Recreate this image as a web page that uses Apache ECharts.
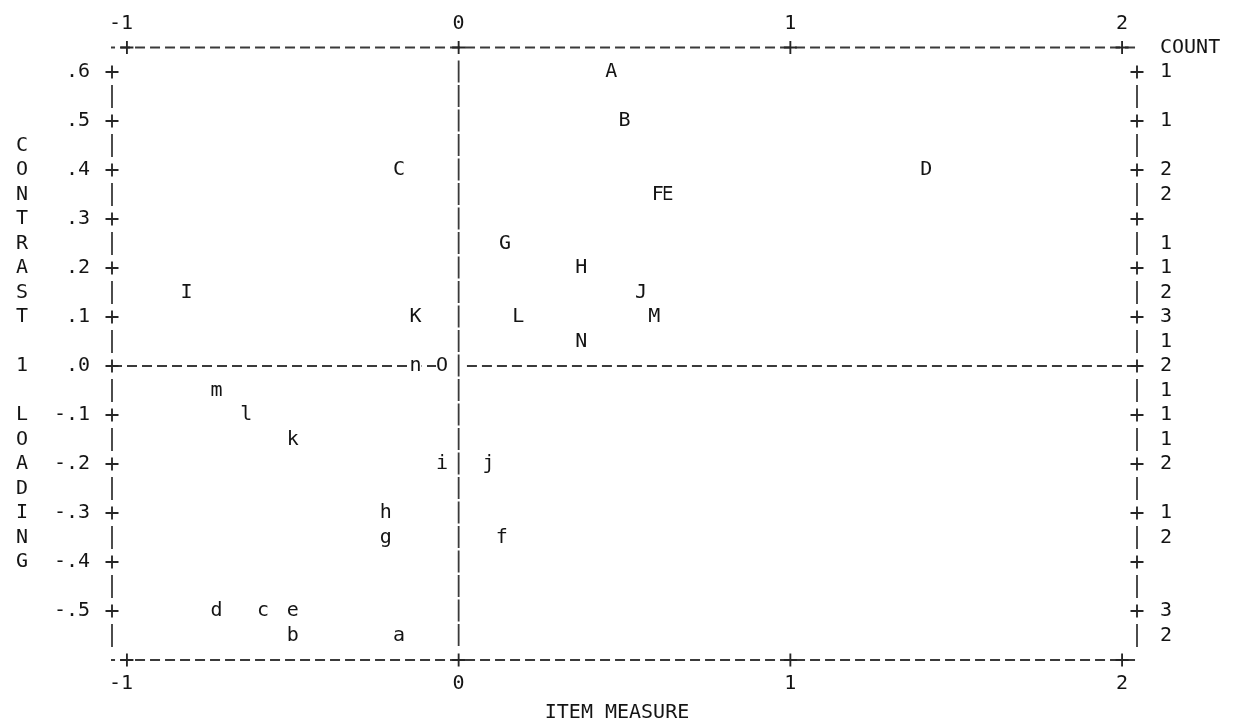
<!DOCTYPE html>
<html>
<head>
<meta charset="utf-8">
<script src="https://cdn.jsdelivr.net/npm/echarts@6/dist/echarts.min.js"></script>
<style>
html,body{margin:0;padding:0;background:#ffffff;}
#chart{width:1242px;height:723px;}
</style>
</head>
<body>
<div id="chart"></div>
<script>
// ---- data ----
const itemLabels      = ['A','B','C','D','E','F','G','H','I','J','K','L','M','N','O','n','m','l','k','i','j','h','g','f','d','c','e','b','a'];
const itemMeasure     = [0.46,0.50,-0.18,1.41,0.63,0.60,0.14,0.37,-0.82,0.55,-0.13,0.18,0.59,0.37,-0.05,-0.13,-0.73,-0.64,-0.50,-0.05,0.09,-0.22,-0.22,0.13,-0.73,-0.59,-0.50,-0.50,-0.18];
const contrastLoading = [0.60,0.50,0.40,0.40,0.35,0.35,0.25,0.20,0.15,0.15,0.10,0.10,0.10,0.05,0.00,0.00,-0.05,-0.10,-0.15,-0.20,-0.20,-0.30,-0.35,-0.35,-0.50,-0.50,-0.50,-0.55,-0.55];

const xTickValues = [-1, 0, 1, 2];
const xTickLabels = ['-1', '0', '1', '2'];
const yTickValues = [0.6, 0.5, 0.4, 0.3, 0.2, 0.1, 0.0, -0.1, -0.2, -0.3, -0.4, -0.5];
const yTickLabels = ['.6', '.5', '.4', '.3', '.2', '.1', '.0', '-.1', '-.2', '-.3', '-.4', '-.5'];
const countRows   = [0.60, 0.50, 0.40, 0.35, 0.25, 0.20, 0.15, 0.10, 0.05, 0.00, -0.05, -0.10, -0.15, -0.20, -0.30, -0.35, -0.50, -0.55];
const countValues = [1, 1, 2, 2, 1, 1, 2, 3, 1, 2, 1, 1, 1, 2, 1, 2, 3, 2];

const countTitle = 'COUNT';
const xTitle = 'ITEM MEASURE';
const yTitle = 'CONTRAST 1 LOADING';

// ---- frame extents ----
const X_MIN = -1.045, X_MAX = 2.045;
const Y_MIN = -0.60,  Y_MAX = 0.65;
const ROW = 0.05;

const FONT = 'DejaVu Sans Mono';
const FS = 20;
const TXT = '#141414';
const LINE = '#3a3a3a';

const key = v => Math.round(v * 100);
const yLabelMap = {}; yTickValues.forEach((v, i) => yLabelMap[key(v)] = yTickLabels[i]);
const xLabelMap = {}; xTickValues.forEach((v, i) => xLabelMap[key(v)] = xTickLabels[i]);
const countMap = {}; countRows.forEach((v, i) => countMap[key(v)] = String(countValues[i]));
countMap[key(Y_MAX)] = countTitle;

const yName = yTitle.split(' ').map(w => w.split('').join('\n')).join('\n\n');

const chart = echarts.init(document.getElementById('chart'), null, {renderer: 'canvas'});

const xLabelFmt = v => {
  const s = xLabelMap[key(v)];
  if (s === undefined) return '';
  return s.length > 1 ? '{neg|' + s + '}' : s;
};
const xRich = {neg: {fontFamily: FONT, fontSize: FS, color: TXT, padding: [0, 12, 0, 0]}};

function lineSeries(pts, dash, width) {
  return {
    type: 'line', data: pts, symbol: 'none', silent: true, clip: false,
    animation: false, z: 2,
    lineStyle: {color: LINE, width: width || 1.8, type: dash}
  };
}

const plusPts = []
  .concat(xTickValues.map(v => [v, Y_MAX]))
  .concat(xTickValues.map(v => [v, Y_MIN]))
  .concat(yTickValues.map(v => [X_MIN, v]))
  .concat(yTickValues.map(v => [X_MAX, v]));

const barHalf = 0.0235;   // half height of a "|" character
const topRow = yTickValues[0], lowRow = countRows[countRows.length - 1];

const option = {
  animation: false,
  backgroundColor: '#ffffff',
  grid: {left: 112, right: 105, top: 47.5, bottom: 63, containLabel: false, outerBoundsMode: 'none'},
  xAxis: [
    {
      type: 'value', position: 'bottom', min: X_MIN, max: X_MAX,
      axisLine: {show: false}, axisTick: {show: false}, splitLine: {show: false},
      axisLabel: {customValues: xTickValues, formatter: xLabelFmt, rich: xRich, margin: 12,
        fontFamily: FONT, fontSize: FS, color: TXT, lineHeight: 24, showMinLabel: true, showMaxLabel: true},
      name: xTitle, nameLocation: 'middle', nameGap: 39,
      nameTextStyle: {fontFamily: FONT, fontSize: FS, color: TXT, lineHeight: 24, padding: [0, 15, 0, 0]}
    },
    {
      type: 'value', position: 'top', min: X_MIN, max: X_MAX,
      axisLine: {show: false}, axisTick: {show: false}, splitLine: {show: false},
      axisLabel: {customValues: xTickValues, formatter: xLabelFmt, rich: xRich, margin: 12,
        fontFamily: FONT, fontSize: FS, color: TXT, lineHeight: 24}
    }
  ],
  yAxis: [
    {
      type: 'value', position: 'left', min: Y_MIN, max: Y_MAX,
      axisLine: {show: false}, axisTick: {show: false}, splitLine: {show: false},
      axisLabel: {customValues: yTickValues, formatter: v => yLabelMap[key(v)] || '', margin: 22,
        fontFamily: FONT, fontSize: FS, color: TXT},
      name: yName, nameLocation: 'middle', nameRotate: 0, nameGap: 84,
      nameTextStyle: {fontFamily: FONT, fontSize: FS, color: TXT, lineHeight: 24.5, align: 'right', verticalAlign: 'middle'}
    },
    {
      type: 'value', position: 'right', min: Y_MIN, max: Y_MAX,
      axisLine: {show: false}, axisTick: {show: false}, splitLine: {show: false},
      axisLabel: {customValues: countRows.concat([Y_MAX]), formatter: v => countMap[key(v)] || '', margin: 23,
        fontFamily: FONT, fontSize: FS, color: TXT, align: 'left', showMaxLabel: true}
    }
  ],
  series: [
    // top and bottom borders
    lineSeries([[X_MIN - 0.021, Y_MAX], [X_MAX + 0.021, Y_MAX]], [10, 5]),
    lineSeries([[X_MIN - 0.021, Y_MIN], [X_MAX + 0.021, Y_MIN]], [10, 5]),
    // zero loading line (broken at the zero measure line)
    lineSeries([[X_MIN, 0], [-0.035, 0]], [10, 5]),
    lineSeries([[0.025, 0], [X_MAX, 0]], [10, 5]),
    // zero measure line
    lineSeries([[0, topRow + barHalf], [0, lowRow - barHalf]], [22, 2.5]),
    // left and right borders ("|" between "+" ticks)
    lineSeries([[X_MIN, topRow - ROW + barHalf], [X_MIN, lowRow - barHalf]], [23, 26]),
    lineSeries([[X_MAX, topRow - ROW + barHalf], [X_MAX, lowRow - barHalf]], [23, 26]),
    // "+" tick marks
    {
      type: 'scatter', data: plusPts, silent: true, clip: false, z: 4,
      symbol: 'path://M6,0H8V6H14V8H8V14H6V8H0V6H6Z', symbolSize: 13,
      itemStyle: {color: '#262626', opacity: 1}
    },
    // items
    {
      type: 'scatter', silent: true, clip: false, z: 6,
      data: itemLabels.map((n, i) => ({name: n, value: [itemMeasure[i], contrastLoading[i]]})),
      symbol: 'circle', symbolSize: 1, itemStyle: {color: 'rgba(0,0,0,0)', opacity: 1},
      label: {show: true, position: 'inside', formatter: p => p.name,
        fontFamily: FONT, fontSize: FS, color: TXT, backgroundColor: '#ffffff', padding: [0, 0, 0, 0]}
    }
  ]
};
chart.setOption(option);
</script>
</body>
</html>
